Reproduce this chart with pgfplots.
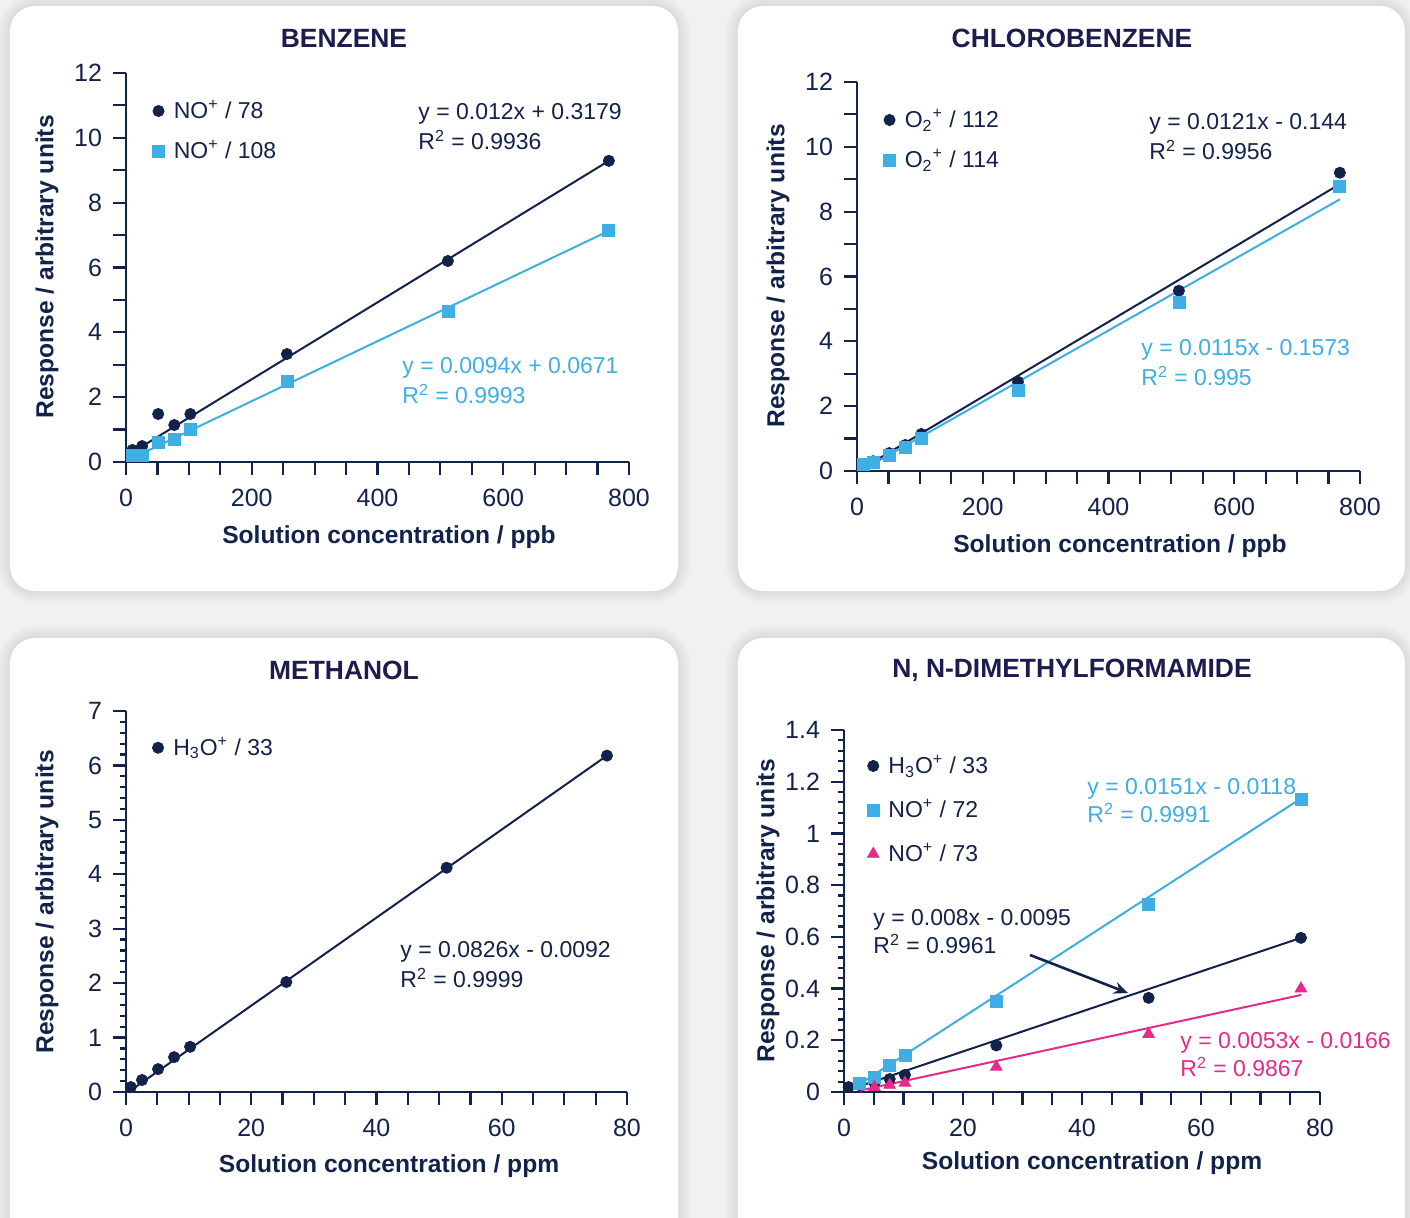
\documentclass[border=0pt]{standalone}
\usepackage{fontspec}
\setmainfont{Liberation Sans}
\usepackage{pgfplots}
\pgfplotsset{compat=1.18}
\usetikzlibrary{arrows.meta}
\definecolor{navy}{HTML}{13224A}
\definecolor{lblue}{HTML}{3EAEE3}
\definecolor{pinkc}{HTML}{E62A8A}
\definecolor{titlec}{HTML}{1C1D4E}
\definecolor{bgc}{HTML}{F1F1F1}
\newcommand{\fs}{\fontsize{11.5}{13.5}\selectfont}
\newcommand{\fb}{\fontsize{12.3}{14.5}\selectfont\bfseries}
\pgfplotsset{
 myax/.style={
  scale only axis, enlargelimits=false, clip=false,
  axis lines=left,
  axis line style={navy, line width=1.1pt, -},
  every outer x axis line/.append style={-},
  every outer y axis line/.append style={-},
  tick style={navy, line width=1.1pt},
  tick align=outside,
  major tick length=6.5pt, minor tick length=6.5pt,
  ticklabel style={font=\fontsize{12.5}{14}\selectfont, text=navy},
  xticklabel style={yshift=-3.5pt},
  yticklabel style={xshift=-2pt},
  /pgf/number format/assume math mode=true,
  legend style={draw=none, fill=none, font=\fs, text=navy, row sep=6.5pt, anchor=north west, inner sep=0pt, nodes={inner xsep=2.6pt, inner ysep=1.5pt}},
  legend cell align=left,
 },
 lim/.style={legend image code/.code={\draw[##1] plot coordinates {(0cm,0cm)}; \path[draw=none, fill=none] (0pt,0pt) (5pt,0pt);}},
 navydot/.style={only marks, mark=*, mark size=2.8pt, mark options={fill=navy, draw=navy}, lim},
 bluesq/.style={only marks, mark=square*, mark size=3pt, mark options={fill=lblue, draw=lblue}, lim},
 pinktri/.style={only marks, mark=triangle*, mark size=3.3pt, mark options={fill=pinkc, draw=pinkc}, lim},
 trend/.style={no marks, line width=1pt, forget plot},
}
\newcommand{\card}[4]{%
 \foreach \i in {1,...,7}{\fill[black, opacity=0.012, rounded corners=12.5pt+\i pt] ({#1-\i*0.9pt},{#2-\i*0.9pt}) rectangle ({#3+\i*0.9pt},{#4+\i*0.9pt});}
 \fill[white, rounded corners=12.5pt] (#1,#2) rectangle (#3,#4);}
\begin{document}
\begin{tikzpicture}
\useasboundingbox (0,0) rectangle (705pt,609pt);
\fill[bgc] (0,0) rectangle (705pt,609pt);
\card{5pt}{313.5pt}{339pt}{606pt}
\card{369pt}{313.5pt}{702.5pt}{606pt}
\card{5pt}{-20pt}{339pt}{290pt}
\card{369pt}{-20pt}{702.5pt}{290pt}

% ---------------- BENZENE
\begin{axis}[myax, at={(63pt,378pt)}, anchor=south west, width=251.5pt, height=194.5pt,
 xmin=0, xmax=800, ymin=0, ymax=12,
 xtick={0,200,...,800}, minor xtick={50,100,...,750},
 ytick={0,2,...,12}, minor ytick={1,3,...,11},
 legend style={at={(axis description cs:0.052,0.938)}}]
\addplot[trend, navy] coordinates {(10.24,0.30) (768,9.29)};
\addplot[trend, lblue] coordinates {(10.24,0.12) (768,7.13)};
\addplot[navydot] coordinates {(10.24,0.37) (25.6,0.49) (51.2,1.48) (76.8,1.14) (102.4,1.48) (256,3.33) (512,6.2) (768,9.29)};
\addlegendentry{NO\textsuperscript{+} / 78}
\addplot[bluesq] coordinates {(10.24,0.21) (25.6,0.21) (51.2,0.59) (76.8,0.71) (102.4,0.99) (256,2.5) (512,4.66) (768,7.13)};
\addlegendentry{NO\textsuperscript{+} / 108}
\end{axis}

% ---------------- CHLOROBENZENE
\begin{axis}[myax, at={(428.5pt,373.5pt)}, anchor=south west, width=251.5pt, height=194.5pt,
 xmin=0, xmax=800, ymin=0, ymax=12,
 xtick={0,200,...,800}, minor xtick={50,100,...,750},
 ytick={0,2,...,12}, minor ytick={1,3,...,11},
 legend style={at={(axis description cs:0.052,0.938)}}]
\addplot[trend, navy] coordinates {(10.24,0.10) (768,8.85)};
\addplot[trend, lblue] coordinates {(10.24,0.05) (768,8.38)};
\addplot[navydot] coordinates {(10.24,0.17) (25.6,0.3) (51.2,0.55) (76.8,0.8) (102.4,1.14) (256,2.75) (512,5.56) (768,9.2)};
\addlegendentry{O\textsubscript{2}\textsuperscript{+} / 112}
\addplot[bluesq] coordinates {(10.24,0.19) (25.6,0.28) (51.2,0.49) (76.8,0.74) (102.4,1.02) (256,2.5) (512,5.19) (768,8.77)};
\addlegendentry{O\textsubscript{2}\textsuperscript{+} / 114}
\end{axis}

% ---------------- METHANOL
\begin{axis}[myax, at={(63pt,63pt)}, anchor=south west, width=250.5pt, height=190.5pt,
 xmin=0, xmax=80, ymin=0, ymax=7,
 xtick={0,20,...,80}, extra x ticks={5,10,15,25,30,35,45,50,55,65,70,75}, extra x tick labels={},
 ytick={0,1,...,7}, minor y tick num=4, minor tick length=3pt,
 legend style={at={(axis description cs:0.052,0.94)}}]
\addplot[trend, navy] coordinates {(0.768,0.03) (76.8,6.18)};
\addplot[navydot] coordinates {(0.768,0.09) (2.56,0.22) (5.12,0.42) (7.68,0.64) (10.24,0.83) (25.6,2.02) (51.2,4.12) (76.8,6.18)};
\addlegendentry{H\textsubscript{3}O\textsuperscript{+} / 33}
\end{axis}

% ---------------- DMF
\begin{axis}[myax, at={(422pt,63pt)}, anchor=south west, width=238pt, height=181pt,
 xmin=0, xmax=80, ymin=0, ymax=1.4,
 xtick={0,20,...,80}, extra x ticks={5,10,15,25,30,35,45,50,55,65,70,75}, extra x tick labels={},
 ytick={0,0.2,0.4,0.6,0.8,1,1.2,1.4}, minor y tick num=4, minor tick length=3pt,
 legend style={at={(axis description cs:0.048,0.939)}, row sep=8.5pt}]
\addplot[trend, lblue] coordinates {(2.56,0.03) (76.8,1.135)};
\addplot[trend, navy] coordinates {(0.768,0.008) (76.8,0.596)};
\addplot[trend, pinkc] coordinates {(2.56,0.005) (76.8,0.375)};
\addplot[navydot] coordinates {(0.768,0.019) (2.56,0.027) (5.12,0.035) (7.68,0.05) (10.24,0.066) (25.6,0.18) (51.2,0.364) (76.8,0.596)};
\addlegendentry{H\textsubscript{3}O\textsuperscript{+} / 33}
\addplot[bluesq] coordinates {(2.56,0.035) (5.12,0.058) (7.68,0.104) (10.24,0.143) (25.6,0.352) (51.2,0.727) (76.8,1.133)};
\addlegendentry{NO\textsuperscript{+} / 72}
\addplot[pinktri] coordinates {(5.12,0.019) (7.68,0.027) (10.24,0.035) (25.6,0.097) (51.2,0.224) (76.8,0.40)};
\addlegendentry{NO\textsuperscript{+} / 73}
\end{axis}

% ---------------- titles
\node[titlec, font=\fontsize{13.2}{15}\selectfont\bfseries] at (172pt,590pt) {BENZENE};
\node[titlec, font=\fontsize{13.2}{15}\selectfont\bfseries] at (536pt,590pt) {CHLOROBENZENE};
\node[titlec, font=\fontsize{13.2}{15}\selectfont\bfseries] at (172pt,274pt) {METHANOL};
\node[titlec, font=\fontsize{13.2}{15}\selectfont\bfseries] at (536pt,274pt) {N, N-DIMETHYLFORMAMIDE};
% ---------------- axis labels
\node[navy, font=\fb] at (194.5pt,340.5pt) {Solution concentration / ppb};
\node[navy, font=\fb] at (560pt,336pt) {Solution concentration / ppb};
\node[navy, font=\fb] at (194.5pt,26pt) {Solution concentration / ppm};
\node[navy, font=\fb] at (546pt,27.5pt) {Solution concentration / ppm};
\node[navy, font=\fb, rotate=90] at (23.5pt,475.5pt) {Response / arbitrary units};
\node[navy, font=\fb, rotate=90] at (389pt,471pt) {Response / arbitrary units};
\node[navy, font=\fb, rotate=90] at (23.5pt,158pt) {Response / arbitrary units};
\node[navy, font=\fb, rotate=90] at (384pt,153.5pt) {Response / arbitrary units};
% ---------------- equations
\begin{scope}[every node/.style={anchor=west, inner sep=0pt, font=\fs}]
\node[navy] at (209pt,552pt) {y = 0.012x + 0.3179};
\node[navy] at (209pt,539pt) {R\textsuperscript{2} = 0.9936};
\node[lblue] at (201pt,425pt) {y = 0.0094x + 0.0671};
\node[lblue] at (201pt,412pt) {R\textsuperscript{2} = 0.9993};
\node[navy] at (574.5pt,547pt) {y = 0.0121x - 0.144};
\node[navy] at (574.5pt,534pt) {R\textsuperscript{2} = 0.9956};
\node[lblue] at (570.5pt,434pt) {y = 0.0115x - 0.1573};
\node[lblue] at (570.5pt,421pt) {R\textsuperscript{2} = 0.995};
\node[navy] at (200pt,133pt) {y = 0.0826x - 0.0092};
\node[navy] at (200pt,120pt) {R\textsuperscript{2} = 0.9999};
\node[lblue] at (543.5pt,214.5pt) {y = 0.0151x - 0.0118};
\node[lblue] at (543.5pt,202.5pt) {R\textsuperscript{2} = 0.9991};
\node[navy] at (436.5pt,149pt) {y = 0.008x - 0.0095};
\node[navy] at (436.5pt,137pt) {R\textsuperscript{2} = 0.9961};
\node[pinkc] at (590pt,87.5pt) {y = 0.0053x - 0.0166};
\node[pinkc] at (590pt,75.5pt) {R\textsuperscript{2} = 0.9867};
\end{scope}
\draw[navy, line width=1.3pt, -{Stealth[length=7pt,width=6pt]}] (515pt,131.5pt) -- (564pt,112.5pt);
\end{tikzpicture}
\end{document}
